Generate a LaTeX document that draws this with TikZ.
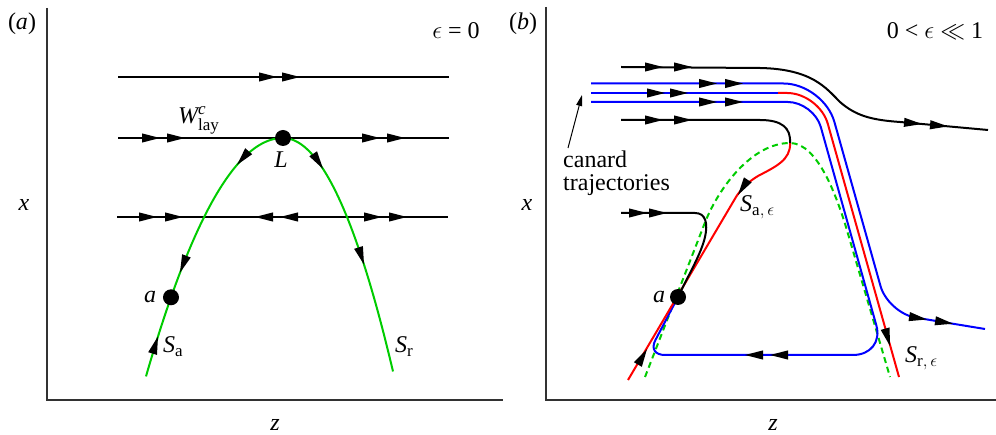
\documentclass[tikz,border=0pt]{standalone}
\usepackage{amsmath}
\usepackage{fontspec}
\setmainfont{Liberation Serif}
\DeclareMathSizes{24}{24}{17}{13}
\usetikzlibrary{arrows.meta}
\definecolor{cgreen}{RGB}{0,204,0}
\definecolor{cred}{RGB}{255,0,0}
\definecolor{cblue}{RGB}{0,0,255}
\definecolor{caxis}{RGB}{50,50,50}
\tikzset{
 traj/.style={line width=2pt},
 blk/.style={traj,black},
 grn/.style={traj,cgreen},
 grndash/.style={traj,cgreen,dash pattern=on 6pt off 4pt},
 redc/.style={traj,cred},
 bluc/.style={traj,cblue},
 axisline/.style={line width=1.3pt,caxis},
 ah/.pic={\fill (0,0) -- (-18,4.6) -- (-18,-4.6) -- cycle;},
 dotn/.style={circle,fill=black,minimum size=16pt,inner sep=0pt},
 lbl/.style={inner sep=0pt,font=\fontsize{24}{28}\selectfont},
}
\begin{document}
\begin{tikzpicture}[x=1pt,y=-1pt]
\useasboundingbox (0,0) rectangle (996,435);
% ---------- panel (a) ----------
\draw[axisline] (47,8) -- (47,400) -- (503,400);
\draw[blk] (118,77) -- (449,77);
\draw[blk] (118,138) -- (449,138);
\draw[blk] (117,217) -- (448,217);
\foreach \p in {277,300} \pic at (\p,77) {ah};
\foreach \p in {160,185,380,405} \pic at (\p,138) {ah};
\foreach \p in {157,183,382,407} \pic at (\p,217) {ah};
\foreach \p in {255,280} \pic[rotate=180] at (\p,217) {ah};
\draw[grn] plot[domain=146:283,samples=80,smooth] (\x,{138+(0.1127*(\x-283))*(0.1127*(\x-283))});
\draw[grn] plot[domain=283:393,samples=80,smooth] (\x,{138+(0.1389*(\x-283))*(0.1389*(\x-283))});
\pic[rotate=-130.6] at (237,164.9) {ah};
\pic[rotate=-57] at (323,168.9) {ah};
\pic[rotate=-110.9] at (180,272.7) {ah};
\pic[rotate=-72.3] at (364,264.6) {ah};
\pic[rotate=72.5] at (158,336.4) {ah};
\node[dotn] (L) at (283,138) {};
\node[dotn] (aA) at (171,297.3) {};
\node[lbl,anchor=base] (la) at (22,30) {(\textit{a})};
\node[lbl,anchor=base] (eps0) at (456,39) {$\epsilon$ = 0};
\node[lbl,anchor=base] (xa) at (24,211) {\textit{x}};
\node[lbl,anchor=base] (za) at (275,430) {\textit{z}};
\node[lbl,anchor=base west] (W) at (178,124) {$\textit{W}^{\textit{c}}_{\textrm{lay}}$};
\node[lbl,anchor=base] (Ll) at (281,168) {\textit{L}};
\node[lbl,anchor=base] (aal) at (150,303) {\textit{a}};
\node[lbl,anchor=base west] (Sa) at (163,353) {$\textit{S}_{\textrm{a}}$};
\node[lbl,anchor=base west] (Sr) at (395,353) {$\textit{S}_{\textrm{r}}$};
% ---------- panel (b) ----------
\draw[axisline] (546,7) -- (546,400) -- (996,400);
\draw[grndash] (645,377) -- (704,225) .. controls (718,188) and (752,143) .. (790,143) .. controls (818,143) and (837,198) .. (846,227) -- (890,377);
% top black
\draw[blk] (621,67) -- (760,68) .. controls (812,69) and (826,88) .. (840,102) .. controls (856,116) and (872,120) .. (900,122) -- (988,130);
% outer blue
\draw[bluc] (591,83.5) -- (783.6,83.5) .. controls (805.6,83.5) and (828.5,100.8) .. (834.4,122) -- (880.5,286) .. controls (884.6,300.8) and (900.4,315.1) .. (915.6,317.6) -- (985,329);
% middle
\draw[bluc] (591,93) -- (779,93);
\draw[redc] (778,93) -- (787.2,93) .. controls (804.8,93) and (823.1,106.9) .. (827.8,123.8) -- (899,377);
% inner blue
\draw[bluc] (591,102) -- (787.8,102) .. controls (802.1,102) and (816.9,113.2) .. (820.8,127) -- (876.3,325.2) .. controls (881,342.1) and (870.5,355) .. (852.9,355) -- (665,355) .. controls (655.1,355) and (650.8,348.9) .. (655.4,340.1) -- (678,297);
% red attracting branch
\draw[redc] (790,143) .. controls (791,160) and (775,167) .. (758,176) .. controls (748,182) and (741,189) .. (736,197) -- (628,380);
% black 2
\draw[blk] (621,120) -- (760,120) .. controls (782,120) and (791,128) .. (790,143);
% black 3
\draw[blk] (621,213) -- (695,213) .. controls (706,213) and (708,224) .. (705,237) .. controls (701,254) and (690,272) .. (678,297);
% arrows
\foreach \p in {663,692} \pic at (\p,67) {ah};
\pic[rotate=-5.2] at (922,124) {ah};
\pic[rotate=-5.2] at (948,126.4) {ah};
\foreach \p in {717,743} \pic at (\p,83.5) {ah};
\foreach \p in {665,688} \pic at (\p,93) {ah};
\foreach \p in {717,743} \pic at (\p,102) {ah};
\foreach \p in {663,692} \pic at (\p,120) {ah};
\foreach \p in {647,667} \pic at (\p,213) {ah};
\pic[rotate=-123] at (738,195) {ah};
\pic[rotate=59.5] at (647,349) {ah};
\pic[rotate=-74.3] at (890,346) {ah};
\pic[rotate=-9.3] at (927,319.5) {ah};
\pic[rotate=-9.3] at (953,323.7) {ah};
\foreach \p in {745,770} \pic[rotate=180] at (\p,355) {ah};
\node[dotn] (aB) at (678,297) {};
\node[lbl,anchor=base] (lb) at (523,30) {(\textit{b})};
\node[lbl,anchor=base] (epsb) at (935,39) {0 < $\epsilon$ $\ll$ 1};
\node[lbl,anchor=base] (xb) at (527,211) {\textit{x}};
\node[lbl,anchor=base] (zb) at (773,430) {\textit{z}};
\node[lbl,anchor=base west] (Sae) at (740,212) {$\textit{S}_{\textrm{a},\,\epsilon}$};
\node[lbl,anchor=base] (abl) at (659,303) {\textit{a}};
\node[lbl,anchor=base west] (Sre) at (905,363) {$\textit{S}_{\textrm{r},\,\epsilon}$};
\node[lbl,anchor=base west] (can1) at (563,168) {canard};
\node[lbl,anchor=base west] (can2) at (563,191) {trajectories};
\coordinate (cantip) at (582,95);
\coordinate (cantail) at (568,148);
\draw[line width=1pt,-{Triangle[length=11pt,width=6pt]}] (cantail) -- (cantip);
\end{tikzpicture}
\end{document}
